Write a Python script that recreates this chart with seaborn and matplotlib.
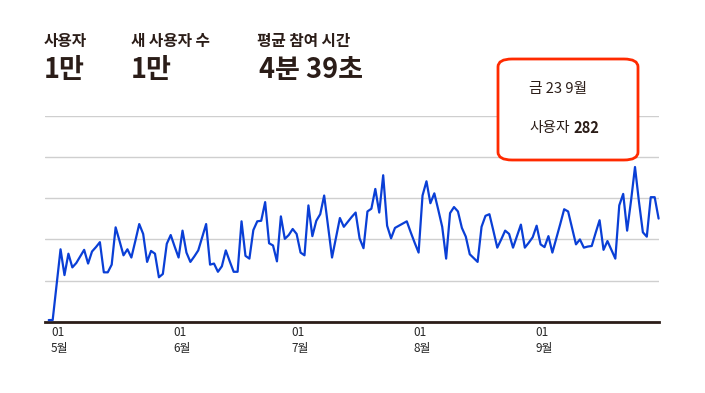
import pandas as pd
import numpy as np
import matplotlib.pyplot as plt
from matplotlib.patches import FancyBboxPatch
import seaborn as sns

# 데이터 (일별 사용자 수)
start_date = '2016-04-29'
users = [3, 3, 68, 132, 85, 124, 99, 107, 119, 131, 106, 128, 136, 145, 90, 90,
         104, 172, 147, 121, 132, 117, 147, 178, 160, 109, 129, 124, 81, 87, 142, 158,
         137, 117, 166, 126, 109, 119, 130, 154, 178, 104, 106, 91, 101, 130, 110, 91,
         91, 183, 120, 115, 167, 183, 184, 218, 143, 139, 110, 192, 151, 158, 169, 160,
         126, 121, 212, 156, 184, 196, 230, 173, 117, 153, 189, 173, 182, 191, 199, 152,
         134, 201, 206, 242, 199, 267, 175, 152, 171, 175, 179, 183, 163, 144, 126, 230,
         256, 216, 234, 204, 173, 115, 198, 209, 201, 171, 155, 123, 116, 109, 173, 193,
         196, 166, 135, 150, 166, 160, 135, 156, 177, 135, 144, 154, 175, 141, 136, 156,
         126, 152, 178, 205, 201, 171, 141, 150, 135, 137, 138, 162, 185, 131, 147, 131,
         115, 212, 233, 166, 221, 282, 219, 163, 155, 227, 227, 188]
month_ticks = ['2016-05-01', '2016-06-01', '2016-07-01', '2016-08-01', '2016-09-01']
month_labels = ['01\n5월', '01\n6월', '01\n7월', '01\n8월', '01\n9월']

header_titles = ['사용자', '새 사용자 수', '평균 참여 시간']
header_values = ['1만', '1만', '4분 39초']
tooltip_date = '금 23 9월'
tooltip_name = '사용자'
tooltip_value = '282'

df = pd.DataFrame({'date': pd.date_range(start_date, periods=len(users)), 'users': users})

sns.set_style('white')
plt.rcParams['font.family'] = ['Noto Sans CJK KR', 'DejaVu Sans']

W, H = 705, 393
fig = plt.figure(figsize=(W / 100, H / 100), dpi=100)
ax = fig.add_axes([45 / W, 1 - 321.7 / H, 614 / W, 205.7 / H])

sns.lineplot(data=df, x='date', y='users', ax=ax, color='#0a3fd6', linewidth=1.6, clip_on=False, zorder=3)

start = pd.Timestamp(start_date)
ax.set_xlim(start - pd.Timedelta(days=0.95), start + pd.Timedelta(days=155.1))
ax.set_ylim(0, 375)
ax.set_yticks(np.arange(0, 376, 75))
ax.set_yticklabels([])
ax.yaxis.grid(True, color='#cfcfcf', linewidth=1)
ax.set_xlabel('')
ax.set_ylabel('')

# 월 눈금: 라벨은 눈금 왼쪽에 맞춰 찍음
tick_dates = pd.to_datetime(month_ticks)
ax.set_xticks(tick_dates)
ax.set_xticklabels([])
ax.tick_params(length=0)
for d, lab in zip(tick_dates, month_labels):
    ax.annotate(lab, xy=(d, 0), xycoords=('data', 'axes fraction'), xytext=(-4, -3),
                textcoords='offset points', ha='left', va='top', fontsize=8.5, color='#262626',
                linespacing=1.3, annotation_clip=False)

for s in ['top', 'left', 'right']:
    ax.spines[s].set_visible(False)
ax.spines['bottom'].set_color('#2b1d18')
ax.spines['bottom'].set_linewidth(2)

# 상단 요약
title_x = [44, 131, 257]
value_x = [44, 131, 259]
for t, v, tx, vx in zip(header_titles, header_values, title_x, value_x):
    fig.text(tx / W, 1 - 41 / H, t, fontsize=11.3, color='#2b1d18', va='center', ha='left', fontweight='bold')
    fig.text(vx / W, 1 - 70 / H, v, fontsize=19.5, color='#2b1d18', va='center', ha='left', fontweight='heavy')

# 툴팁
box = FancyBboxPatch((498 / W, 1 - 160 / H), 140 / W, 101 / H,
                     boxstyle='round,pad=0,rounding_size=0.02', transform=fig.transFigure,
                     facecolor='white', edgecolor='#ff2a00', linewidth=2, zorder=5)
fig.patches.append(box)
fig.text(529 / W, 1 - 89 / H, tooltip_date, fontsize=10.6, color='#2b1d18', va='center', ha='left', zorder=6)
t1 = fig.text(529 / W, 1 - 128 / H, tooltip_name, fontsize=10.6, color='#2b1d18', va='center', ha='left', zorder=6)
fig.canvas.draw()
bb = t1.get_window_extent()
fig.text((bb.x1 + 4) / W, 1 - 128 / H, tooltip_value, fontsize=10.6, color='#2b1d18', va='center', ha='left',
         fontweight='bold', zorder=6)

fig.savefig('out.png', dpi=100)
